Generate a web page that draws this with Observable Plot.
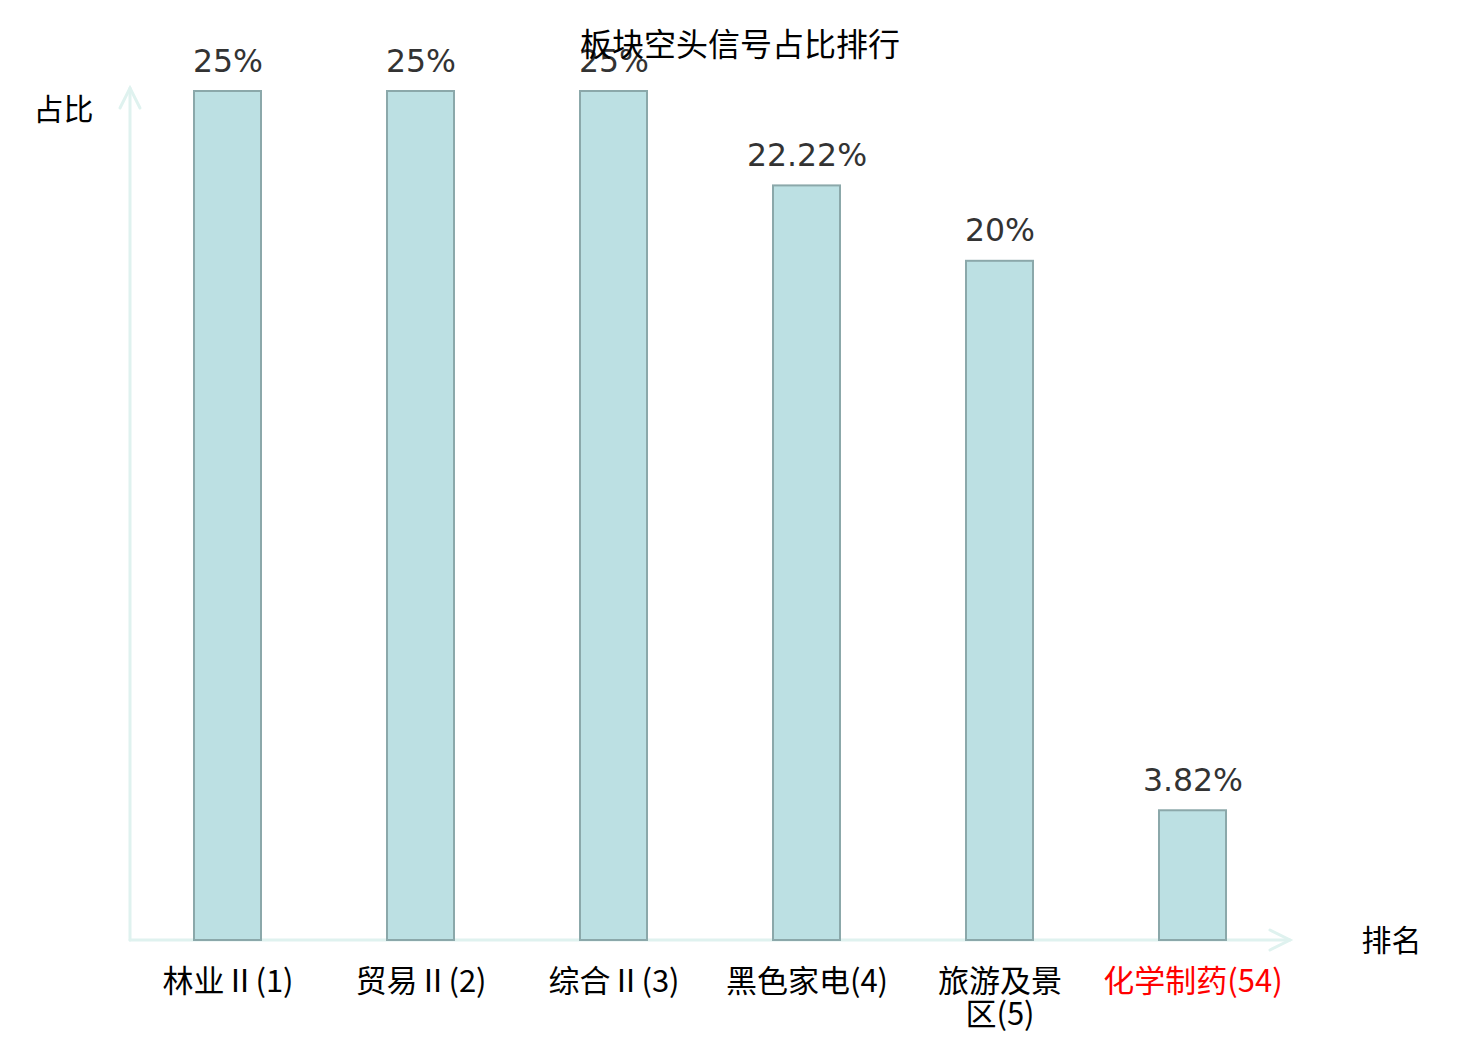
<!DOCTYPE html>
<html><head><meta charset="utf-8">
<script src="https://cdn.jsdelivr.net/npm/d3@7"></script>
<script src="https://cdn.jsdelivr.net/npm/@observablehq/plot@0.6"></script>
<style>
body{margin:0;background:#fff;}
#wrap{position:relative;width:1480px;height:1040px;}
#chart{position:absolute;left:0;top:0;}
#title{position:absolute;left:0;width:1480px;top:22px;text-align:center;font-family:"Noto Sans CJK SC";font-size:32px;line-height:40px;color:#000;z-index:2;}
</style></head><body>
<div id="wrap"><div id="chart"></div><div id="title">板块空头信号占比排行</div></div>
<script>
const categories = ["林业Ⅱ(1)", "贸易Ⅱ(2)", "综合Ⅱ(3)", "黑色家电(4)", "旅游及景区(5)", "化学制药(54)"];
const tickLabels = ["林业Ⅱ(1)", "贸易Ⅱ(2)", "综合Ⅱ(3)", "黑色家电(4)", "旅游及景\n区(5)", "化学制药(54)"];
const values = [25, 25, 25, 22.22, 20, 3.82];
const valueLabels = ["25%", "25%", "25%", "22.22%", "20%", "3.82%"];
const highlighted = ["化学制药(54)"];
const yAxisLabel = "占比";
const xAxisLabel = "排名";

const data = categories.map((c, i) => ({category: c, label: tickLabels[i], value: values[i], text: valueLabels[i]}));

const axisColor = "#dff2ef";
function arrowAxes(index, scales, vals, dims) {
  const g = d3.create("svg:g").attr("fill", "none").attr("stroke", axisColor).attr("stroke-width", 3).attr("stroke-linecap", "round");
  const x0 = dims.marginLeft, x1 = dims.width - dims.marginRight;
  const y0 = scales.y(0), y1 = dims.marginTop - 3;
  g.append("line").attr("x1", x0).attr("x2", x0).attr("y1", y0).attr("y2", y1);
  g.append("line").attr("x1", x0).attr("x2", x1).attr("y1", y0).attr("y2", y0);
  g.append("path").attr("d", `M${x0 - 10},${y1 + 20}L${x0},${y1}L${x0 + 10},${y1 + 20}`);
  g.append("path").attr("d", `M${x1 - 20},${y0 - 10}L${x1},${y0}L${x1 - 20},${y0 + 10}`);
  return g.node();
}

const chart = Plot.plot({
  width: 1480,
  height: 1040,
  marginTop: 91,
  marginBottom: 100,
  marginLeft: 130,
  marginRight: 190,
  x: {domain: categories, padding: 0, axis: null},
  y: {domain: [0, 25], axis: null},
  marks: [
    arrowAxes,
    Plot.barY(data, {x: "category", y: "value", fill: "#bce0e3", stroke: "#8ba8aa", strokeWidth: 2, insetLeft: 63, insetRight: 63}),
    Plot.text(data, {x: "category", y: "value", text: "text", dy: -30, fontSize: 31.5, fill: "#333", fontFamily: "DejaVu Sans"}),
    Plot.text(data, {x: "category", y: () => 0, text: "label", dy: 29, lineAnchor: "top", lineHeight: 1.04, fontSize: 31, fontFamily: "Noto Sans CJK SC",
      fill: d => highlighted.includes(d.category) ? "red" : "black"}),
    Plot.text([yAxisLabel], {frameAnchor: "top-left", text: d => d, textAnchor: "middle", lineAnchor: "middle", dx: -67, dy: 19, fontSize: 30, fontFamily: "Noto Sans CJK SC", fill: "black"}),
    Plot.text([xAxisLabel], {frameAnchor: "bottom-right", text: d => d, textAnchor: "middle", lineAnchor: "middle", dx: 101, dy: 1, fontSize: 30, fontFamily: "Noto Sans CJK SC", fill: "black"})
  ]
});
document.getElementById("chart").appendChild(chart);
</script>
</body></html>
